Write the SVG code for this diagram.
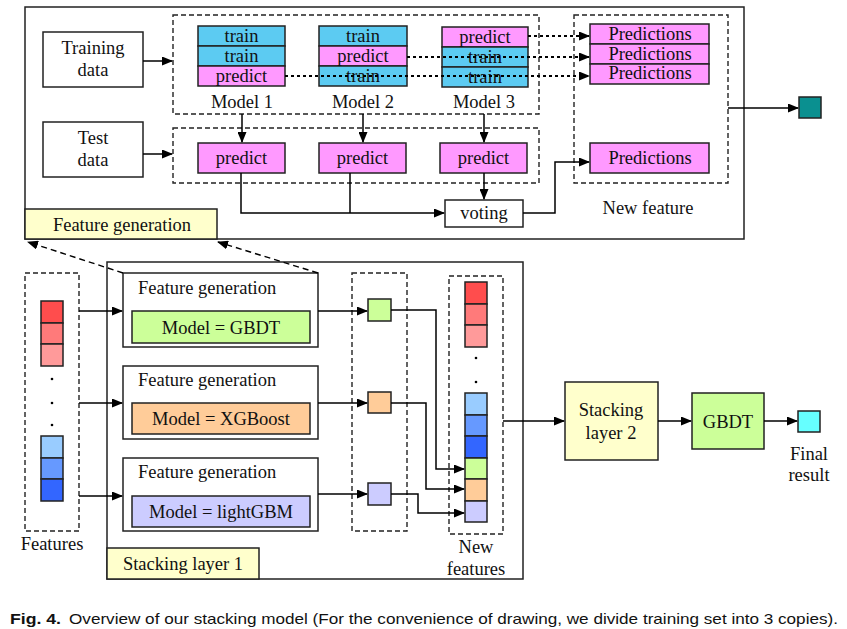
<svg xmlns="http://www.w3.org/2000/svg" width="847" height="629" viewBox="0 0 847 629">
<defs>
<marker id="ah" markerWidth="11" markerHeight="9" refX="10" refY="4.5" orient="auto" markerUnits="userSpaceOnUse"><path d="M0,0 L11,4.5 L0,9 z" fill="#000"/></marker>
<style>
text{font-family:"Liberation Serif","Times New Roman",serif;font-size:18.5px;fill:#111}
.c{text-anchor:middle}
.box{fill:#fff;stroke:#222;stroke-width:1.5}
.dash{fill:none;stroke:#222;stroke-width:1.4;stroke-dasharray:5,3}
.cell{stroke:#222;stroke-width:1.5}
.tr{fill:#5CCBF2}
.pr{fill:#FF99FF}
.ln{fill:none;stroke:#000;stroke-width:1.5}
.dot{fill:none;stroke:#000;stroke-width:1.8;stroke-dasharray:3,3}
.dl{fill:none;stroke:#000;stroke-width:1.4;stroke-dasharray:6,4}
</style>
</defs>
<rect width="847" height="629" fill="#fff"/>

<g id="feature-generation-panel">
<rect x="25" y="7" width="719" height="232" class="box"/>
</g>
<g id="training-data"><rect x="43" y="32" width="100" height="55" class="box"/><text x="93" y="54" class="c">Training</text><text x="93" y="76" class="c">data</text></g>
<g id="test-data"><rect x="43" y="122" width="100" height="55" class="box"/><text x="93" y="144" class="c">Test</text><text x="93" y="166" class="c">data</text></g>
<g id="train-group"><rect x="173" y="15" width="366" height="99" class="dash"/></g>
<g id="test-group"><rect x="173" y="128" width="366" height="55" class="dash"/></g>
<g id="model1">
<rect x="198" y="26" width="87" height="20" class="cell tr"/><rect x="198" y="46" width="87" height="20" class="cell tr"/><rect x="198" y="66" width="87" height="20" class="cell pr"/>
<text x="241.5" y="42" class="c">train</text><text x="241.5" y="62" class="c">train</text><text x="241.5" y="82" class="c">predict</text>
<text x="242" y="108" class="c">Model 1</text>
</g>
<g id="model2">
<rect x="319" y="26" width="88" height="20" class="cell tr"/><rect x="319" y="46" width="88" height="20" class="cell pr"/><rect x="319" y="66" width="88" height="20" class="cell tr"/>
<text x="363" y="42" class="c">train</text><text x="363" y="62" class="c">predict</text><text x="363" y="82" class="c">train</text>
<text x="363" y="108" class="c">Model 2</text>
</g>
<g id="model3">
<rect x="442" y="27" width="86" height="20" class="cell pr"/><rect x="442" y="47" width="86" height="20" class="cell tr"/><rect x="442" y="67" width="86" height="20" class="cell tr"/>
<text x="485" y="43" class="c">predict</text><text x="485" y="63" class="c">train</text><text x="485" y="83" class="c">train</text>
<text x="484" y="108" class="c">Model 3</text>
</g>
<g id="predict1"><rect x="198" y="143" width="87" height="30" class="cell pr"/><text x="241.5" y="164" class="c">predict</text></g>
<g id="predict2"><rect x="319" y="143" width="87" height="30" class="cell pr"/><text x="362.5" y="164" class="c">predict</text></g>
<g id="predict3"><rect x="440" y="143" width="87" height="30" class="cell pr"/><text x="483.5" y="164" class="c">predict</text></g>
<g id="voting"><rect x="445" y="200" width="78" height="27" class="box"/><text x="484" y="219" class="c">voting</text></g>
<g id="new-feature">
<rect x="574" y="15" width="154" height="168" class="dash"/>
<rect x="590" y="24" width="119" height="20" class="cell pr"/><rect x="590" y="44" width="119" height="20" class="cell pr"/><rect x="590" y="64" width="119" height="20" class="cell pr"/>
<text x="650" y="40" class="c">Predictions</text><text x="650" y="60" class="c">Predictions</text><text x="650" y="79" class="c">Predictions</text>
<rect x="590" y="143" width="119" height="30" class="cell pr"/><text x="650" y="164" class="c">Predictions</text>
<text x="648" y="214" class="c">New feature</text>
</g>
<g id="teal-output"><rect x="799" y="97" width="22" height="21" fill="#0A9090" stroke="#222" stroke-width="1.5"/></g>
<g id="feature-generation-label"><rect x="25" y="209" width="192" height="30" fill="#FFFFCC" stroke="#222" stroke-width="1.5"/><text x="122" y="231" class="c">Feature generation</text></g>

<g id="stacking-layer-1">
<rect x="107" y="262" width="416" height="317" class="box"/>
<rect x="107" y="548" width="152" height="31" fill="#FFFFCC" stroke="#222" stroke-width="1.5"/>
<text x="183" y="570" class="c">Stacking layer 1</text>
</g>
<g id="features">
<rect x="25" y="273" width="54" height="258" class="dash"/>
<rect x="41" y="301" width="22" height="22" fill="#FF4D4D" class="cell"/><rect x="41" y="323" width="22" height="21" fill="#FF7A7A" class="cell"/><rect x="41" y="344" width="22" height="22" fill="#FF9A9A" class="cell"/>
<circle cx="52" cy="379" r="1.3" fill="#000"/><circle cx="52" cy="403" r="1.3" fill="#000"/><circle cx="52" cy="425" r="1.3" fill="#000"/>
<rect x="41" y="436" width="22" height="22" fill="#99CCFF" class="cell"/><rect x="41" y="458" width="22" height="21" fill="#6699FF" class="cell"/><rect x="41" y="479" width="22" height="22" fill="#3366FF" class="cell"/>
<text x="52" y="550" class="c">Features</text>
</g>
<g id="gen-gbdt"><rect x="123" y="273" width="195" height="74" class="box"/><text x="138" y="294">Feature generation</text><rect x="132" y="311" width="178" height="32" fill="#CCFF99" class="cell"/><text x="221" y="334" class="c">Model = GBDT</text></g>
<g id="gen-xgboost"><rect x="123" y="366" width="195" height="73" class="box"/><text x="138" y="386">Feature generation</text><rect x="132" y="403" width="178" height="31" fill="#FFCC99" class="cell"/><text x="221" y="425" class="c">Model = XGBoost</text></g>
<g id="gen-lightgbm"><rect x="123" y="458" width="195" height="73" class="box"/><text x="138" y="478">Feature generation</text><rect x="132" y="496" width="178" height="31" fill="#CCCCFF" class="cell"/><text x="221" y="518" class="c">Model = lightGBM</text></g>
<g id="outputs">
<rect x="352" y="273" width="55" height="258" class="dash"/>
<rect x="368" y="299" width="23" height="22" fill="#CCFF99" class="cell"/>
<rect x="368" y="392" width="23" height="21" fill="#FFCC99" class="cell"/>
<rect x="368" y="483" width="23" height="22" fill="#CCCCFF" class="cell"/>
</g>
<g id="new-features">
<rect x="449" y="276" width="54" height="258" class="dash"/>
<rect x="465" y="282" width="22" height="22" fill="#FF4D4D" class="cell"/><rect x="465" y="304" width="22" height="21" fill="#FF7A7A" class="cell"/><rect x="465" y="325" width="22" height="22" fill="#FF9A9A" class="cell"/>
<circle cx="476" cy="358" r="1.3" fill="#000"/><circle cx="476" cy="382" r="1.3" fill="#000"/>
<rect x="465" y="393" width="22" height="22" fill="#99CCFF" class="cell"/><rect x="465" y="415" width="22" height="21" fill="#6699FF" class="cell"/><rect x="465" y="436" width="22" height="22" fill="#3366FF" class="cell"/>
<rect x="465" y="458" width="22" height="21" fill="#CCFF99" class="cell"/><rect x="465" y="479" width="22" height="22" fill="#FFCC99" class="cell"/><rect x="465" y="501" width="22" height="21" fill="#CCCCFF" class="cell"/>
<text x="476" y="553" class="c">New</text><text x="476" y="575" class="c">features</text>
</g>
<g id="stacking-layer-2"><rect x="565" y="382" width="93" height="78" fill="#FFFFCC" stroke="#222" stroke-width="1.5"/><text x="611" y="416" class="c">Stacking</text><text x="611" y="439" class="c">layer 2</text></g>
<g id="gbdt"><rect x="692" y="393" width="72" height="56" fill="#CCFF99" stroke="#222" stroke-width="1.5"/><text x="728" y="428" class="c">GBDT</text></g>
<g id="final-result"><rect x="798" y="411" width="22" height="21" fill="#66FFFF" stroke="#222" stroke-width="1.5"/><text x="809" y="460" class="c">Final</text><text x="809" y="481" class="c">result</text></g>

<g id="connectors">
<path d="M143,61 H172" class="ln" marker-end="url(#ah)"/>
<path d="M143,154 H172" class="ln" marker-end="url(#ah)"/>
<path d="M242,114 V142" class="ln" marker-end="url(#ah)"/>
<path d="M363,114 V142" class="ln" marker-end="url(#ah)"/>
<path d="M484,114 V142" class="ln" marker-end="url(#ah)"/>
<path d="M285,76 H589" class="dot" marker-end="url(#ah)"/>
<path d="M407,57 H589" class="dot" marker-end="url(#ah)"/>
<path d="M528,36 H589" class="dot" marker-end="url(#ah)"/>
<path d="M241,173 V213 H444" class="ln" marker-end="url(#ah)"/>
<path d="M350,173 V213" class="ln"/>
<path d="M484,173 V199" class="ln" marker-end="url(#ah)"/>
<path d="M523,213 H555 V162 H589" class="ln" marker-end="url(#ah)"/>
<path d="M728,108 H798" class="ln" marker-end="url(#ah)"/>
<path d="M123,273 L28,242" class="dl" marker-end="url(#ah)"/>
<path d="M318,273 L218,242" class="dl" marker-end="url(#ah)"/>
<path d="M79,311 H122" class="ln" marker-end="url(#ah)"/>
<path d="M79,403 H122" class="ln" marker-end="url(#ah)"/>
<path d="M79,496 H122" class="ln" marker-end="url(#ah)"/>
<path d="M318,311 H367" class="ln" marker-end="url(#ah)"/>
<path d="M318,403 H367" class="ln" marker-end="url(#ah)"/>
<path d="M318,494 H367" class="ln" marker-end="url(#ah)"/>
<path d="M391,310 H436 V469 H464" class="ln" marker-end="url(#ah)"/>
<path d="M391,403 H426 V489 H464" class="ln" marker-end="url(#ah)"/>
<path d="M391,494 H418 V513 H464" class="ln" marker-end="url(#ah)"/>
<path d="M503,421 H564" class="ln" marker-end="url(#ah)"/>
<path d="M658,421 H691" class="ln" marker-end="url(#ah)"/>
<path d="M764,421 H797" class="ln" marker-end="url(#ah)"/>
</g>

<g id="caption">
<text x="10" y="624" style="font-family:'Liberation Sans Narrow','Liberation Sans',sans-serif;font-size:15px;font-weight:bold" textLength="51" lengthAdjust="spacingAndGlyphs">Fig. 4.</text>
<text x="69" y="624" style="font-family:'Liberation Sans Narrow','Liberation Sans',sans-serif;font-size:15px" textLength="769" lengthAdjust="spacingAndGlyphs">Overview of our stacking model (For the convenience of drawing, we divide training set into 3 copies).</text>
</g>
</svg>
